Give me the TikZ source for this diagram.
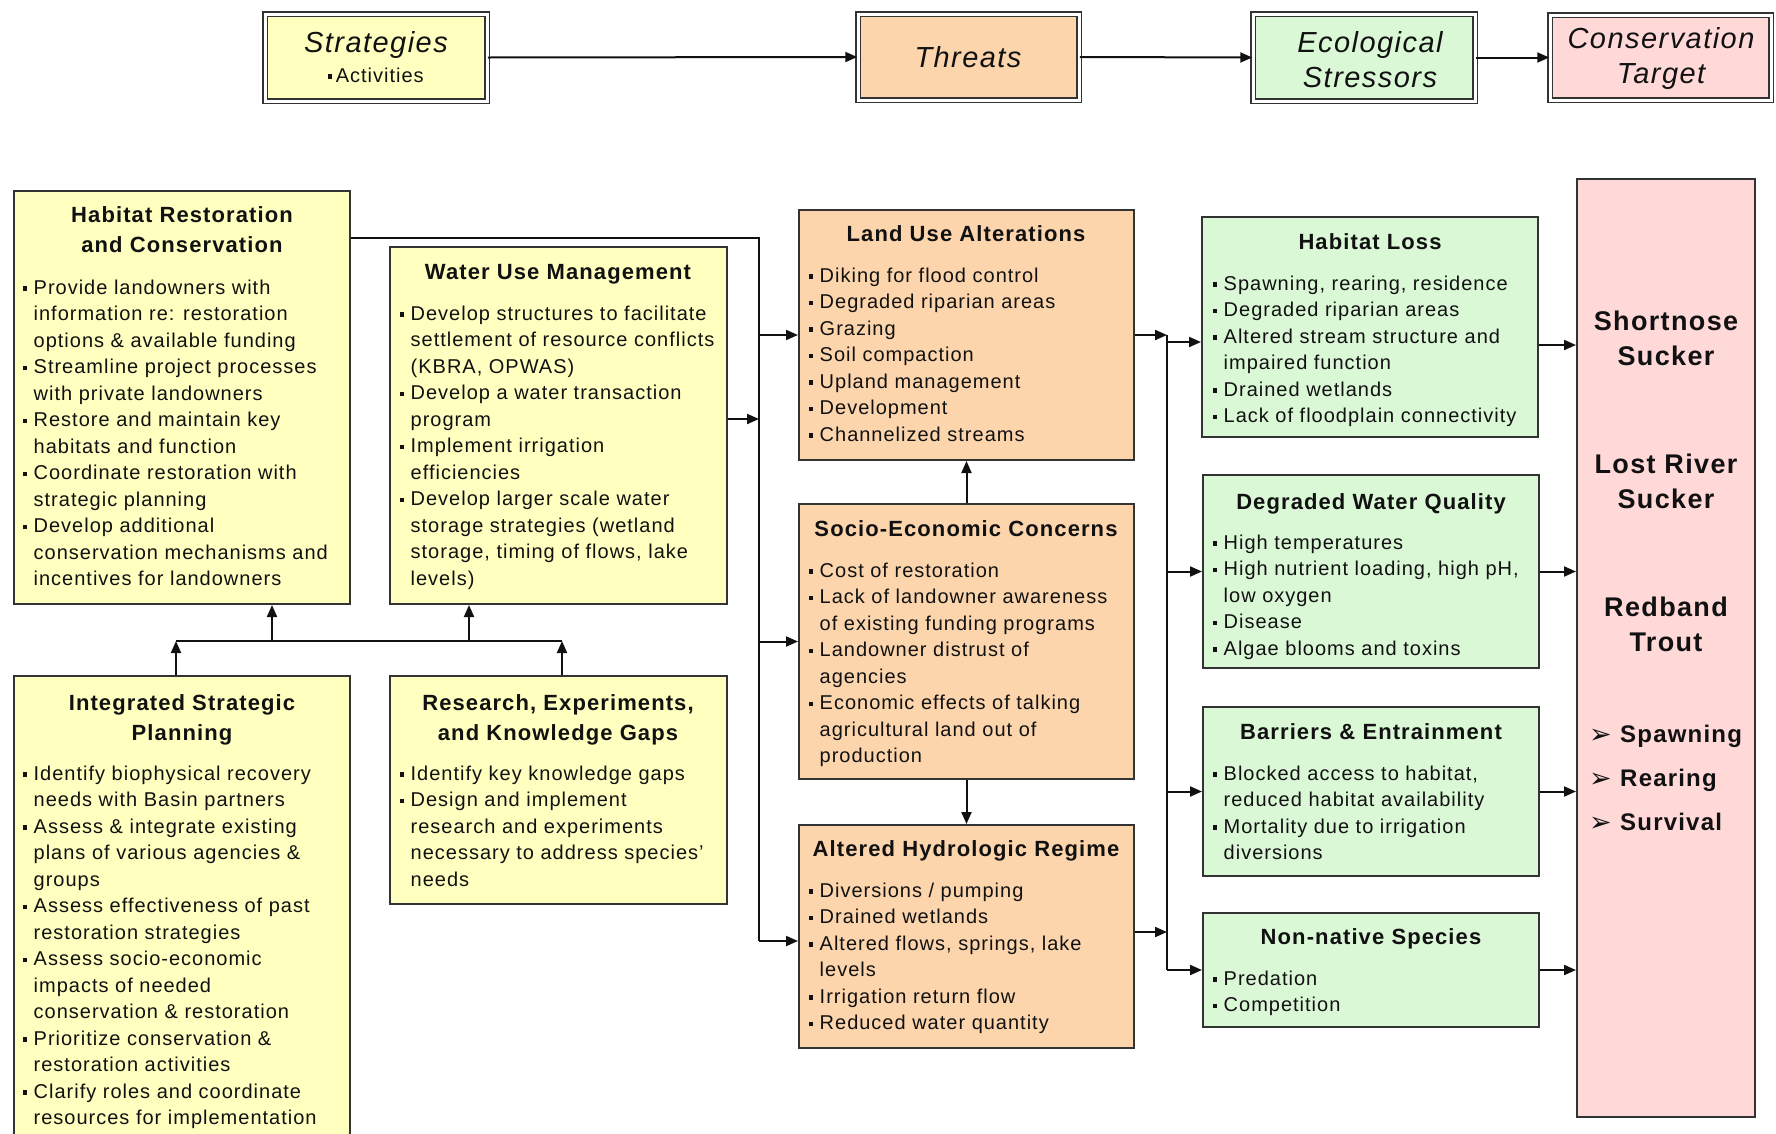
\documentclass[tikz,border=0pt]{standalone}
\usepackage{fontspec}
\setmainfont{Liberation Sans}[LetterSpace=5]
\newfontfamily\symfont{DejaVu Sans}
\usetikzlibrary{arrows.meta,calc}
\definecolor{yel}{HTML}{FFFFC0}
\definecolor{pch}{HTML}{FCD5AC}
\definecolor{grn}{HTML}{DAF8D6}
\definecolor{pnk}{HTML}{FFD8D8}
\definecolor{edge}{HTML}{333333}
\definecolor{ink}{HTML}{111111}
\tikzset{
  box/.style={draw=edge, line width=2pt, inner sep=0pt},
  legbox/.style={draw=edge, line width=1.5pt, double=white, double distance=3pt, inner sep=0pt},
  arr/.style={draw=ink, line width=2pt, -{Triangle[length=12pt,width=10pt]}},
  ln/.style={draw=ink, line width=2pt},
  txt/.style={anchor=base west, inner sep=0pt, text=ink},
  ttl/.style={anchor=base, inner sep=0pt, text=ink},
}
\newcommand\mkbox[7][box]{\node[#1, fill=#7, minimum width={(#5-#3)*1pt}, minimum height={(#6-#4)*1pt}] (#2) at ({(#3+#5)/2},{(#4+#6)/2}) {};}
\newcommand\mybul{\rule[3.5pt]{4.2pt}{4.2pt}}
\newcommand\myitm{\par\hangindent=10.5pt\hangafter=1\noindent\makebox[10.5pt][l]{\mybul}}
\newcommand\bodytxt[1]{\parbox[t]{340pt}{\raggedright\def\\{\newline}\fontsize{20}{26.5}\selectfont\parskip=0pt #1}}
\newcommand\titletxt[1]{\parbox[t]{330pt}{\centering\fontsize{22}{30.5}\selectfont\bfseries #1}}
\newcommand\targettxt[1]{\parbox[t]{176pt}{\centering\fontsize{27}{35.5}\selectfont\bfseries #1}}
\newcommand\legendtxt[1]{\parbox[t]{226pt}{\centering\fontsize{29}{35.5}\selectfont\itshape #1}}
\newcommand\myarrow{\makebox[31pt][l]{\raisebox{-1pt}{\symfont\fontsize{27}{27}\selectfont ➢}}}
\begin{document}
\begin{tikzpicture}[x=1pt,y=-1pt]
\clip (0,0) rectangle (1776,1133);
\fill[white] (0,0) rectangle (1776,1133);

% ---------- legend ----------
\mkbox[legbox]{lS}{265}{14}{487}{101}{yel}
\mkbox[legbox]{lT}{858}{14}{1079}{100}{pch}
\mkbox[legbox]{lE}{1253}{14}{1475}{101}{grn}
\mkbox[legbox]{lC}{1550}{15}{1771}{100}{pnk}
\node[ttl] (lSt) at (376,52) {\legendtxt{Strategies}};
\node[ttl] (lSa) at (376,82) {\fontsize{20}{24}\selectfont\mybul\,Activities};
\node[ttl] (lTt) at (968,67) {\legendtxt{Threats}};
\node[ttl] (lEt) at (1370,52) {\legendtxt{Ecological\\Stressors}};
\node[ttl] (lCt) at (1661,48) {\legendtxt{Conservation\\Target}};
\draw[arr] (lS.east) -- (lT.west);
\draw[arr] (lT.east) -- (lE.west);
\draw[arr] (lE.east) -- (lC.west);

% ---------- strategies ----------
\mkbox{hr}{14}{191}{350}{604}{yel}
\mkbox{wum}{390}{247}{727}{604}{yel}
\mkbox{isp}{14}{676}{350}{1160}{yel}
\mkbox{rs}{390}{676}{727}{904}{yel}

\node[ttl] (hrT) at (182,222) {\titletxt{Habitat Restoration\\and Conservation}};
\node[txt] (hrB) at (23,294) {\bodytxt{%
\myitm Provide landowners with\\information re: restoration\\options \& available funding
\myitm Streamline project processes\\with private landowners
\myitm Restore and maintain key\\habitats and function
\myitm Coordinate restoration with\\strategic planning
\myitm Develop additional\\conservation mechanisms and\\incentives for landowners}};

\node[ttl] (wumT) at (558,279) {\titletxt{Water Use Management}};
\node[txt] (wumB) at (400,320) {\bodytxt{%
\myitm Develop structures to facilitate\\settlement of resource conflicts\\(KBRA, OPWAS)
\myitm Develop a water transaction\\program
\myitm Implement irrigation\\efficiencies
\myitm Develop larger scale water\\storage strategies (wetland\\storage, timing of flows, lake\\levels)}};

\node[ttl] (ispT) at (182,710) {\titletxt{Integrated Strategic\\Planning}};
\node[txt] (ispB) at (23,780) {\bodytxt{%
\myitm Identify biophysical recovery\\needs with Basin partners
\myitm Assess \& integrate existing\\plans of various agencies \&\\groups
\myitm Assess effectiveness of past\\restoration strategies
\myitm Assess socio-economic\\impacts of needed\\conservation \& restoration
\myitm Prioritize conservation \&\\restoration activities
\myitm Clarify roles and coordinate\\resources for implementation}};

\node[ttl] (rsT) at (558,710) {\titletxt{Research, Experiments,\\and Knowledge Gaps}};
\node[txt] (rsB) at (400,780) {\bodytxt{%
\myitm Identify key knowledge gaps
\myitm Design and implement\\research and experiments\\necessary to address species'\\needs}};

% ---------- threats ----------
\mkbox{lu}{799}{210}{1134}{460}{pch}
\mkbox{se}{799}{504}{1134}{779}{pch}
\mkbox{ah}{799}{825}{1134}{1048}{pch}

\node[ttl] (luT) at (966,241) {\titletxt{Land Use Alterations}};
\node[txt] (luB) at (809,282) {\bodytxt{%
\myitm Diking for flood control
\myitm Degraded riparian areas
\myitm Grazing
\myitm Soil compaction
\myitm Upland management
\myitm Development
\myitm Channelized streams}};

\node[ttl] (seT) at (966,536) {\titletxt{Socio-Economic Concerns}};
\node[txt] (seB) at (809,577) {\bodytxt{%
\myitm Cost of restoration
\myitm Lack of landowner awareness\\of existing funding programs
\myitm Landowner distrust of\\agencies
\myitm Economic effects of talking\\agricultural land out of\\production}};

\node[ttl] (ahT) at (966,856) {\titletxt{Altered Hydrologic Regime}};
\node[txt] (ahB) at (809,897) {\bodytxt{%
\myitm Diversions / pumping
\myitm Drained wetlands
\myitm Altered flows, springs, lake\\levels
\myitm Irrigation return flow
\myitm Reduced water quantity}};

% ---------- stressors ----------
\mkbox{hl}{1202}{217}{1538}{437}{grn}
\mkbox{dwq}{1203}{475}{1539}{668}{grn}
\mkbox{be}{1203}{707}{1539}{876}{grn}
\mkbox{nn}{1203}{913}{1539}{1027}{grn}

\node[ttl] (hlT) at (1370,249) {\titletxt{Habitat Loss}};
\node[txt] (hlB) at (1213,290) {\bodytxt{%
\myitm Spawning, rearing, residence
\myitm Degraded riparian areas
\myitm Altered stream structure and\\impaired function
\myitm Drained wetlands
\myitm Lack of floodplain connectivity}};

\node[ttl] (dwqT) at (1371,509) {\titletxt{Degraded Water Quality}};
\node[txt] (dwqB) at (1213,549) {\bodytxt{%
\myitm High temperatures
\myitm High nutrient loading, high pH,\\low oxygen
\myitm Disease
\myitm Algae blooms and toxins}};

\node[ttl] (beT) at (1371,739) {\titletxt{Barriers \& Entrainment}};
\node[txt] (beB) at (1213,780) {\bodytxt{%
\myitm Blocked access to habitat,\\reduced habitat availability
\myitm Mortality due to irrigation\\diversions}};

\node[ttl] (nnT) at (1371,944) {\titletxt{Non-native Species}};
\node[txt] (nnB) at (1213,985) {\bodytxt{%
\myitm Predation
\myitm Competition}};

% ---------- target ----------
\mkbox{tg}{1577}{179}{1755}{1117}{pnk}
\node[ttl] (tg1) at (1666,330) {\targettxt{Shortnose\\Sucker}};
\node[ttl] (tg2) at (1666,473) {\targettxt{Lost River\\Sucker}};
\node[ttl] (tg3) at (1666,616) {\targettxt{Redband\\Trout}};
\node[txt] (tg4) at (1589,742) {\parbox[t]{160pt}{\raggedright\fontsize{24}{44}\selectfont\bfseries
\myarrow Spawning\\
\myarrow Rearing\\
\myarrow Survival}};

% ---------- helper coordinates ----------
\coordinate (busA) at (759,0);
\coordinate (busB) at (1167,0);
\coordinate (yHR) at (0,238);
\coordinate (yW) at (0,419);
\coordinate (yAH) at (0,941);
\coordinate (yAHo) at (0,932);
\coordinate (yHLi) at (0,342);
\coordinate (yHLo) at (0,345);
\coordinate (yS) at (0,641);
\coordinate (xa) at (176,0);
\coordinate (xb) at (562,0);
\coordinate (xc) at (272,0);
\coordinate (xd) at (469,0);

% strategies tree
\draw[arr] (isp.north -| xa) -- (xa |- yS);
\draw[arr] (rs.north -| xb) -- (xb |- yS);
\draw[ln] (xa |- yS) -- (xb |- yS);
\draw[arr] (xc |- yS) -- (hr.south -| xc);
\draw[arr] (xd |- yS) -- (wum.south -| xd);

% strategies -> threats
\draw[ln] (hr.east |- yHR) -- (busA |- yHR) -- (busA |- yAH);
\draw[arr] (wum.east |- yW) -- (busA |- yW);
\draw[arr] (busA |- lu.west) -- (lu.west);
\draw[arr] (busA |- se.west) -- (se.west);
\draw[arr] (busA |- yAH) -- (ah.west |- yAH);

% threats internal
\draw[arr] (se.north) -- (lu.south);
\draw[arr] (se.south) -- (ah.north);

% threats -> stressors
\draw[arr] (lu.east) -- (busB |- lu.east);
\draw[arr] (ah.east |- yAHo) -- (busB |- yAHo);
\draw[ln] (busB |- lu.east) -- (busB |- nn.west);
\draw[arr] (busB |- yHLi) -- (hl.west |- yHLi);
\draw[arr] (busB |- dwq.west) -- (dwq.west);
\draw[arr] (busB |- be.west) -- (be.west);
\draw[arr] (busB |- nn.west) -- (nn.west);

% stressors -> target
\draw[arr] (hl.east |- yHLo) -- (tg.west |- yHLo);
\draw[arr] (dwq.east) -- (tg.west |- dwq.east);
\draw[arr] (be.east) -- (tg.west |- be.east);
\draw[arr] (nn.east) -- (tg.west |- nn.east);
\end{tikzpicture}
\end{document}
